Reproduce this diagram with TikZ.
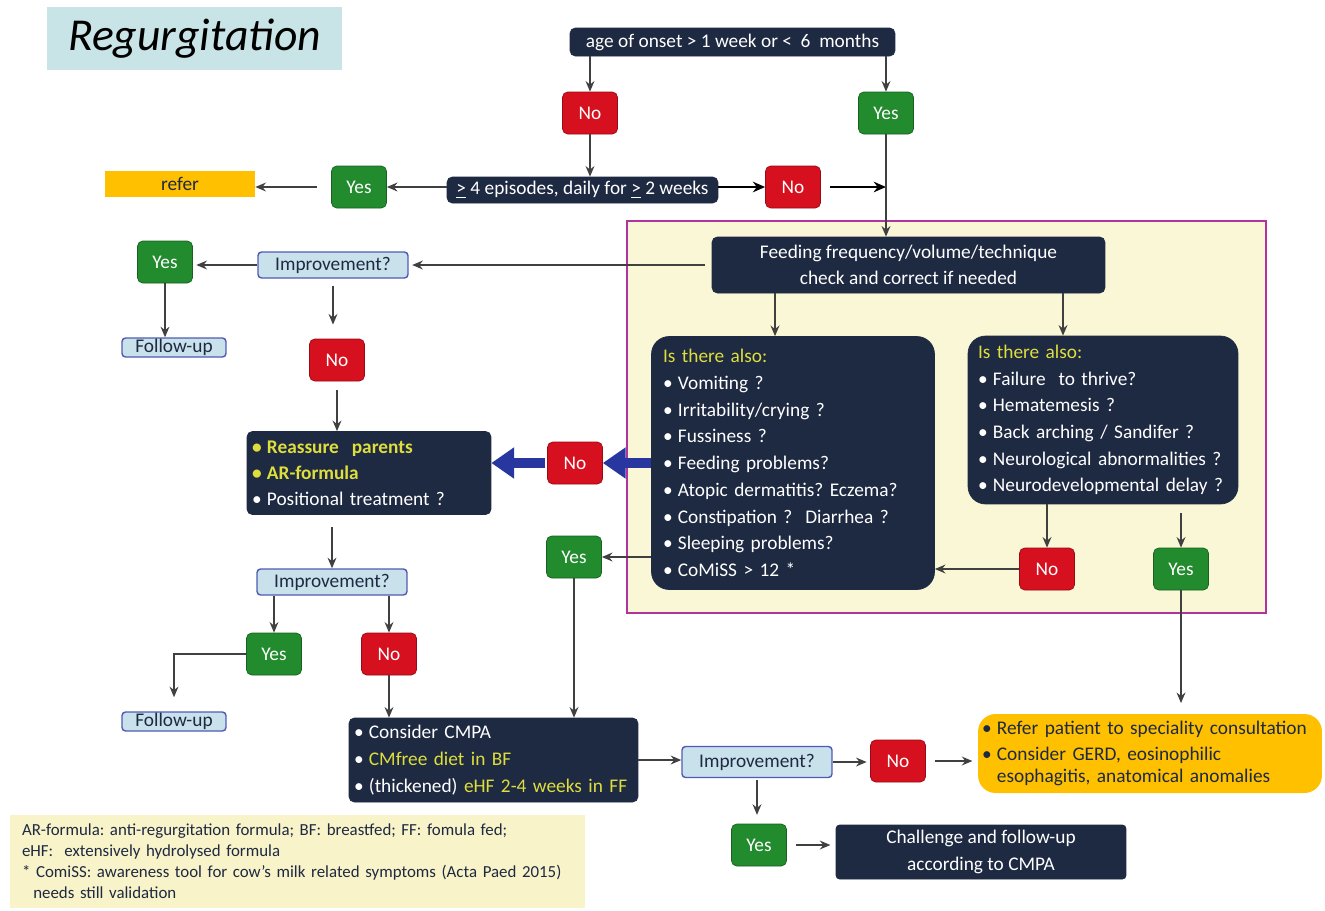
\documentclass[tikz,border=0pt]{standalone}
\usepackage{fontspec}
\setmainfont{Carlito}
\usepackage{tikz}
\usetikzlibrary{arrows.meta}

\definecolor{navy}{RGB}{30,41,66}
\definecolor{hiyellow}{RGB}{222,222,60}
\definecolor{yesgreen}{RGB}{34,139,46}
\definecolor{nored}{RGB}{214,16,30}
\definecolor{implight}{RGB}{200,225,235}
\definecolor{impblue}{RGB}{80,90,180}
\definecolor{orangebox}{RGB}{255,192,0}
\definecolor{zonepink}{RGB}{178,50,160}
\definecolor{zonefill}{RGB}{250,247,214}
\definecolor{notefill}{RGB}{248,243,200}
\definecolor{titlebg}{RGB}{200,228,230}
\definecolor{arrgray}{RGB}{64,64,64}
\definecolor{arrblue}{RGB}{40,55,160}

\newcommand\bul{\textbullet\hspace{3pt}}
\frenchspacing

\begin{document}
\begin{tikzpicture}[x=0.02cm, y=-0.02cm, every node/.style={font=\fontsize{11}{13}\selectfont, inner sep=0pt},
  dark/.style={draw=navy, fill=navy, text=white, rounded corners=3pt},
  yesbox/.style={draw=yesgreen!70!black, fill=yesgreen, text=white, rounded corners=3pt, minimum width=1.1cm, minimum height=0.84cm},
  nobox/.style={draw=nored!70!black, fill=nored, text=white, rounded corners=3pt, minimum width=1.1cm, minimum height=0.84cm},
  impbox/.style={draw=impblue, fill=implight, text=navy, line width=0.8pt, rounded corners=2pt, minimum width=3cm, minimum height=0.52cm},
  arr/.style={draw=arrgray, line width=1pt, -{Stealth[length=6pt,width=5pt]}},
  blackarr/.style={draw=black, line width=1.4pt, -{Stealth[length=7pt,width=6pt]}},
  bluearr/.style={draw=arrblue, line width=5.5pt, -{Triangle[length=13pt,width=17pt]}}]

\useasboundingbox (0,0) rectangle (1325,910);

\node[fill=titlebg, minimum width=5.9cm, minimum height=1.26cm, font=\fontsize{26}{30}\selectfont\itshape] (title) at (194.5,38.5) {Regurgitation};

% top of the chart
\node[dark, minimum width=6.5cm, minimum height=0.56cm] (onset) at (732.5,42) {age of onset > 1 week or <\ \ 6\ \ months};
\node[nobox] (no1) at (590,113) {No};
\node[yesbox] (yes1) at (886,113) {Yes};
\node[dark, minimum width=5.42cm, minimum height=0.52cm] (epis) at (582.5,190) {\underline{>} 4 episodes, daily for \underline{>} 2 weeks};
\node[nobox] (no2) at (793,187) {No};
\node[yesbox] (yes2) at (359,187) {Yes};
\node[fill=orangebox, text=navy, minimum width=3cm, minimum height=0.52cm] (refer) at (180,184) {refer};

% framed zone
\node[draw=zonepink, fill=zonefill, line width=1.5pt, minimum width=12.78cm, minimum height=7.84cm] (zone) at (946.5,417) {};
\node[dark, minimum width=7.86cm, minimum height=1.12cm, align=center, font=\fontsize{11}{15}\selectfont] (feed) at (908.5,265) {Feeding frequency/volume/technique\\check and correct if needed};
\coordinate (fl) at (775,293);
\coordinate (fr) at (1063,293);
\node[dark, rounded corners=10pt, minimum width=5.66cm, minimum height=5.06cm, text width=5.2cm, inner xsep=0.23cm, align=left, font=\fontsize{11}{15.2}\selectfont] (left) at (793,463)
  {{\color{hiyellow}Is there also:}\\
   \bul Vomiting ?\\
   \bul Irritability/crying ?\\
   \bul Fussiness ?\\
   \bul Feeding problems?\\
   \bul Atopic dermatitis? Eczema?\\
   \bul Constipation ?\ \ Diarrhea ?\\
   \bul Sleeping problems?\\
   \bul CoMiSS > 12 *};
\node[dark, rounded corners=10pt, minimum width=5.4cm, minimum height=3.36cm, text width=5cm, inner xsep=0.2cm, align=left, font=\fontsize{11}{15.2}\selectfont] (right) at (1103,420)
  {{\color{hiyellow}Is there also:}\\
   \bul Failure\ \ to thrive?\\
   \bul Hematemesis ?\\
   \bul Back arching / Sandifer ?\\
   \bul Neurological abnormalities ?\\
   \bul Neurodevelopmental delay ?};
\node[nobox] (no5) at (1047,569) {No};
\node[yesbox] (yes5) at (1181,569) {Yes};

% left column
\node[impbox] (imp1) at (333,265) {Improvement?};
\node[yesbox] (yes3) at (165,262) {Yes};
\node[impbox, minimum width=2.08cm, minimum height=0.38cm] (fu1) at (174,347.5) {Follow-up};
\node[nobox] (no3) at (337,360) {No};
\node[dark, minimum width=4.88cm, minimum height=1.66cm, text width=4.68cm, inner xsep=0.1cm, align=left, font=\fontsize{11}{14.8}\selectfont] (reass) at (369,473)
  {{\color{hiyellow}\bfseries\bul Reassure\ \ parents}\\
   {\color{hiyellow}\bfseries\bul AR-formula}\\
   \bul Positional treatment ?};
\node[nobox] (no4) at (575,463) {No};
\node[yesbox] (yes4) at (574,557) {Yes};
\node[impbox] (imp2) at (332,582) {Improvement?};
\node[yesbox] (yes6) at (274,654) {Yes};
\node[nobox] (no6) at (389,654) {No};
\node[impbox, minimum width=2.08cm, minimum height=0.38cm] (fu2) at (174,721.5) {Follow-up};

% bottom row
\node[dark, minimum width=5.78cm, minimum height=1.68cm, text width=5.58cm, inner xsep=0.1cm, align=left, font=\fontsize{11}{15.2}\selectfont] (cmpa) at (493.5,760)
  {\bul Consider CMPA\\
   \bul {\color{hiyellow}CMfree diet in BF}\\
   \bul (thickened) {\color{hiyellow}eHF 2-4 weeks in FF}};
\node[impbox, minimum height=0.62cm] (imp3) at (757,762) {Improvement?};
\node[nobox] (no7) at (898,761) {No};
\node[fill=orangebox, text=navy, rounded corners=10pt, minimum width=6.88cm, minimum height=1.58cm, text width=6.72cm, inner xsep=0.08cm, align=left, font=\fontsize{11}{12.5}\selectfont] (spec) at (1150,753.5)
  {\bul Refer patient to speciality consultation\\[2pt]
   \bul Consider GERD, eosinophilic\\
   \phantom{\bul}esophagitis, anatomical anomalies};
\node[yesbox] (yes7) at (759,845) {Yes};
\node[dark, rounded corners=2pt, minimum width=5.8cm, minimum height=1.08cm, align=center, font=\fontsize{11}{15}\selectfont] (chal) at (981,852) {Challenge and follow-up\\according to CMPA};

\node[fill=notefill, text=navy, minimum width=11.5cm, minimum height=1.86cm, text width=11.02cm, inner xsep=0.24cm, align=left, font=\fontsize{9.6}{11.9}\selectfont] (notes) at (297.5,861.5)
  {AR-formula: anti-regurgitation formula; BF: breastfed; FF:\ fomula fed;\\
   eHF:\ \ extensively hydrolysed formula\\
   {*} ComiSS: awareness tool for cow’s milk related symptoms (Acta Paed 2015)\\
   \ \ needs still validation};

% connectors
\draw[arr] (onset.south -| no1.north) -- (no1.north);
\draw[arr] (onset.south -| yes1.north) -- (yes1.north);
\draw[arr] (no1.south) -- (no1.south |- epis.north);
\draw[blackarr] (epis.east |- no2) -- (no2.west);
\draw[blackarr, shorten <=5pt] (no2.east) -- (no2.east -| yes1.south);
\draw[arr] (yes1.south) -- (yes1.south |- feed.north);
\draw[arr] (epis.west |- yes2) -- (yes2.east);
\draw[arr, shorten <=8pt] (yes2.west) -- (yes2.west -| refer.east);
\draw[arr, shorten <=4pt, shorten >=2pt] (feed.west) -- (imp1.east);
\draw[arr, shorten >=2pt] (imp1.west) -- (imp1.west -| yes3.east);
\draw[arr] (yes3.south) -- (yes3.south |- fu1.north);
\draw[arr, shorten <=4pt, shorten >=8pt] (imp1.south) -- (imp1.south |- no3.north);
\draw[arr, shorten <=5pt] (no3.south) -- (no3.south |- reass.north);
\draw[arr] (fl) -- (fl |- left.north);
\draw[arr] (fr) -- (fr |- right.north);
\draw[bluearr] (left.west |- no4) -- (no4.east);
\draw[bluearr, shorten <=1pt] (no4.west) -- (no4.west -| reass.east);
\draw[arr] (left.west |- yes4) -- (yes4.east);
\draw[arr] (yes4.south) -- (yes4.south |- cmpa.north);
\draw[arr] (right.south -| no5.north) -- (no5.north);
\draw[arr, shorten <=5pt] (right.south -| yes5.north) -- (yes5.north);
\draw[arr] (no5.west) -- (no5.west -| left.east);
\draw[arr, shorten >=6pt] (yes5.south) -- (yes5.south |- spec.north);
\draw[arr, shorten <=7pt] (reass.south -| imp2.north) -- (imp2.north);
\draw[arr] (imp2.south -| yes6.north) -- (yes6.north);
\draw[arr] (imp2.south -| no6.north) -- (no6.north);
\draw[arr, shorten >=8pt] (yes6.west) -| (fu2.north);
\draw[arr] (no6.south) -- (no6.south |- cmpa.north);
\draw[arr] (cmpa.east) -- (cmpa.east -| imp3.west);
\draw[arr, shorten >=2pt] (imp3.east) -- (imp3.east -| no7.west);
\draw[arr, shorten <=5pt, shorten >=3pt] (no7.east) -- (no7.east -| spec.west);
\draw[arr, shorten <=1pt, shorten >=5pt] (imp3.south) -- (imp3.south |- yes7.north);
\draw[arr, shorten <=5pt, shorten >=3pt] (yes7.east) -- (yes7.east -| chal.west);

\end{tikzpicture}
\end{document}
